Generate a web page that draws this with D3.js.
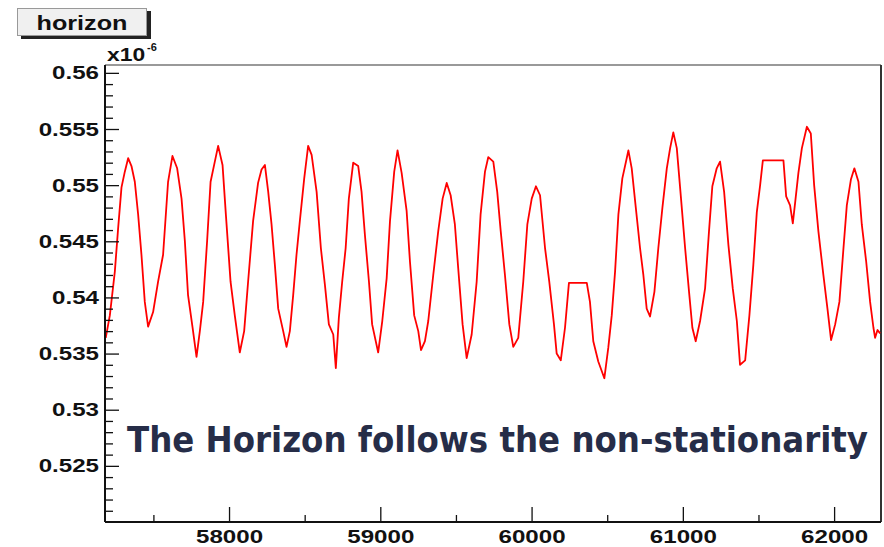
<!DOCTYPE html>
<html>
<head>
<meta charset="utf-8">
<script src="https://cdn.jsdelivr.net/npm/d3@7"></script>
<style>
  body { margin: 0; background: #fff; }
  svg { display: block; }
</style>
</head>
<body>
<div id="chart"></div>
<script>
// horizon trace, values (y in units of 1e-6)
const horizonX = [57185, 57212, 57245, 57267, 57289, 57311, 57333, 57355, 57377, 57399,
  57421, 57443, 57465, 57498, 57531, 57564, 57597, 57626, 57657, 57686,
  57708, 57729, 57759, 57785, 57807, 57829, 57855, 57878, 57906, 57928,
  57957, 57979, 58010, 58038, 58071, 58100, 58126, 58159, 58192, 58215,
  58237, 58259, 58281, 58303, 58325, 58358, 58380, 58402, 58424, 58446,
  58468, 58497, 58523, 58546, 58579, 58607, 58634, 58660, 58689, 58706,
  58726, 58748, 58771, 58792, 58821, 58854, 58876, 58898, 58925, 58946,
  58986, 59013, 59042, 59064, 59092, 59114, 59141, 59174, 59196, 59224,
  59251, 59269, 59295, 59317, 59350, 59383, 59412, 59439, 59465, 59493,
  59515, 59544, 59571, 59604, 59637, 59663, 59692, 59714, 59747, 59773,
  59796, 59824, 59853, 59879, 59912, 59945, 59972, 60001, 60029, 60056,
  60089, 60117, 60148, 60166, 60193, 60221, 60247, 60365, 60386, 60408,
  60441, 60481, 60507, 60530, 60552, 60574, 60600, 60629, 60640, 60662,
  60689, 60717, 60739, 60761, 60783, 60812, 60838, 60865, 60894, 60916,
  60937, 60960, 60988, 61015, 61041, 61063, 61085, 61114, 61147, 61173,
  61195, 61224, 61246, 61273, 61301, 61330, 61357, 61378, 61412, 61440,
  61466, 61489, 61511, 61529, 61665, 61683, 61709, 61727, 61742, 61764,
  61787, 61820, 61846, 61868, 61896, 61929, 61956, 61980, 62007, 62035,
  62062, 62084, 62111, 62134, 62161, 62183, 62212, 62238, 62260, 62271,
  62287, 62304];
const horizonY = [0.5364, 0.5384, 0.5423, 0.5462, 0.5498, 0.5512, 0.5524, 0.5517, 0.5503, 0.5474,
  0.5438, 0.5396, 0.5374, 0.5387, 0.5414, 0.5438, 0.5503, 0.5526, 0.5515, 0.5488,
  0.5450, 0.5402, 0.5373, 0.5347, 0.5370, 0.5396, 0.5450, 0.5503, 0.5521, 0.5535,
  0.5518, 0.5474, 0.5414, 0.5384, 0.5351, 0.5370, 0.5414, 0.5468, 0.5502, 0.5514,
  0.5518, 0.5494, 0.5465, 0.5429, 0.5390, 0.5370, 0.5356, 0.5370, 0.5402, 0.5438,
  0.5468, 0.5506, 0.5535, 0.5527, 0.5494, 0.5444, 0.5411, 0.5376, 0.5367, 0.5337,
  0.5382, 0.5414, 0.5444, 0.5488, 0.5520, 0.5517, 0.5494, 0.5456, 0.5414, 0.5376,
  0.5351, 0.5379, 0.5417, 0.5468, 0.5512, 0.5531, 0.5511, 0.5477, 0.5432, 0.5384,
  0.5370, 0.5353, 0.5361, 0.5379, 0.5420, 0.5459, 0.5488, 0.5502, 0.5491, 0.5465,
  0.5426, 0.5376, 0.5346, 0.5367, 0.5414, 0.5474, 0.5512, 0.5525, 0.5521, 0.5494,
  0.5459, 0.5420, 0.5376, 0.5356, 0.5364, 0.5414, 0.5465, 0.5488, 0.5499, 0.5491,
  0.5444, 0.5414, 0.5376, 0.5350, 0.5344, 0.5373, 0.5413, 0.5413, 0.5396, 0.5361,
  0.5343, 0.5328, 0.5355, 0.5384, 0.5423, 0.5474, 0.5506, 0.5524, 0.5531, 0.5515,
  0.5480, 0.5444, 0.5420, 0.5390, 0.5383, 0.5405, 0.5444, 0.5480, 0.5515, 0.5533,
  0.5547, 0.5533, 0.5488, 0.5444, 0.5405, 0.5373, 0.5361, 0.5379, 0.5408, 0.5459,
  0.5499, 0.5515, 0.5521, 0.5494, 0.5447, 0.5408, 0.5379, 0.5340, 0.5344, 0.5384,
  0.5429, 0.5476, 0.5500, 0.5522, 0.5522, 0.5490, 0.5482, 0.5466, 0.5484, 0.5511,
  0.5533, 0.5552, 0.5546, 0.5500, 0.5459, 0.5420, 0.5390, 0.5362, 0.5376, 0.5396,
  0.5444, 0.5482, 0.5505, 0.5515, 0.5503, 0.5465, 0.5432, 0.5396, 0.5373, 0.5364,
  0.5371, 0.5368];

const xTicks = [58000, 59000, 60000, 61000, 62000];
const xMinorTicks = [57500, 58500, 59500, 60500, 61500];
const yTicks = [0.525, 0.53, 0.535, 0.54, 0.545, 0.55, 0.555, 0.56];

const W = 884, H = 547;
const frame = { left: 105, right: 881, top: 65, bottom: 522 };
const labelFont = "'Liberation Sans', Arial, sans-serif";
const stretch = 1.27; // reference glyphs are wider than Arial

const svg = d3.select("#chart").append("svg")
  .attr("width", W).attr("height", H);

svg.append("rect").attr("width", W).attr("height", H).attr("fill", "#fff");

const x = d3.scaleLinear().domain([57180, 62310]).range([frame.left, frame.right]);
const y = d3.scaleLinear().domain([0.52, 0.5607]).range([frame.bottom, frame.top]);

// minor ticks every 0.001
const yMinor = d3.range(521, 561).map((v) => v / 1000).filter((v) => !yTicks.some((t) => Math.abs(t - v) < 1e-9));

// frame top / right
svg.append("line")
  .attr("x1", frame.left).attr("x2", frame.right)
  .attr("y1", frame.top).attr("y2", frame.top)
  .attr("stroke", "#999").attr("stroke-width", 2);
svg.append("line")
  .attr("x1", frame.right).attr("x2", frame.right)
  .attr("y1", frame.top).attr("y2", frame.bottom)
  .attr("stroke", "#333").attr("stroke-width", 2);

// the line
const line = d3.line()
  .x((d, i) => x(horizonX[i]))
  .y((d, i) => y(horizonY[i]));

svg.append("path")
  .datum(horizonY)
  .attr("d", line)
  .attr("fill", "none")
  .attr("stroke", "#ff0000")
  .attr("stroke-width", 1.8)
  .attr("stroke-linejoin", "round");

// y axis
const yAxisG = svg.append("g").attr("transform", `translate(${frame.left},0)`);
yAxisG.call(d3.axisLeft(y).tickValues(yMinor).tickSize(-8).tickFormat(""));
yAxisG.call((g) => g.select(".domain").remove());
const yMajorG = svg.append("g").attr("transform", `translate(${frame.left},0)`);
yMajorG.call(d3.axisLeft(y).tickValues(yTicks).tickSizeInner(-14).tickSizeOuter(0).tickPadding(6)
  .tickFormat((d) => String(+d.toFixed(3))));
yMajorG.select(".domain").remove();

// x axis
const xMinorG = svg.append("g").attr("transform", `translate(0,${frame.bottom})`);
xMinorG.call(d3.axisBottom(x).tickValues(xMinorTicks).tickSize(-7).tickFormat(""));
xMinorG.select(".domain").remove();
const xMajorG = svg.append("g").attr("transform", `translate(0,${frame.bottom})`);
xMajorG.call(d3.axisBottom(x).tickValues(xTicks).tickSizeInner(-15).tickSizeOuter(0).tickPadding(8)
  .tickFormat(d3.format("d")));
xMajorG.select(".domain").remove();

svg.selectAll(".tick line").attr("stroke", "#111").attr("stroke-width", 1.3);

const widen = function () {
  const w = this.getComputedTextLength();
  d3.select(this).attr("textLength", w * stretch).attr("lengthAdjust", "spacingAndGlyphs");
};

svg.selectAll(".tick text")
  .attr("font-family", labelFont)
  .attr("font-weight", "bold")
  .attr("font-size", 19)
  .attr("fill", "#111")
  .each(widen);

// frame left / bottom
svg.append("line")
  .attr("x1", frame.left).attr("x2", frame.left)
  .attr("y1", frame.top).attr("y2", frame.bottom)
  .attr("stroke", "#111").attr("stroke-width", 2);
svg.append("line")
  .attr("x1", frame.left).attr("x2", frame.right)
  .attr("y1", frame.bottom).attr("y2", frame.bottom)
  .attr("stroke", "#111").attr("stroke-width", 2);

// exponent label
svg.append("text")
  .attr("x", 107).attr("y", 61)
  .attr("font-family", labelFont).attr("font-weight", "bold")
  .attr("font-size", 18).attr("fill", "#111")
  .text("x10")
  .each(widen);
svg.append("text")
  .attr("x", 147).attr("y", 51)
  .attr("font-family", labelFont).attr("font-weight", "bold")
  .attr("font-size", 11).attr("fill", "#111")
  .text("-6");

// title box
svg.append("rect")
  .attr("x", 21).attr("y", 11).attr("width", 130).attr("height", 28)
  .attr("fill", "#222");
svg.append("rect")
  .attr("x", 17.5).attr("y", 8.5).attr("width", 129).attr("height", 27)
  .attr("fill", "#f0f0f0").attr("stroke", "#999").attr("stroke-width", 1);
svg.append("text")
  .attr("x", 82).attr("y", 30)
  .attr("text-anchor", "middle")
  .attr("font-family", labelFont).attr("font-weight", "bold")
  .attr("font-size", 21).attr("fill", "#111")
  .attr("textLength", 91).attr("lengthAdjust", "spacingAndGlyphs")
  .text("horizon");

// annotation
svg.append("g")
  .attr("transform", "translate(127,452) scale(1,1.18)")
  .append("text")
  .attr("x", 0).attr("y", 0)
  .attr("font-family", "'Comic Sans MS', 'DejaVu Sans', sans-serif")
  .attr("font-weight", "bold")
  .attr("font-size", 30)
  .attr("fill", "#262d48")
  .attr("textLength", 741)
  .attr("lengthAdjust", "spacingAndGlyphs")
  .text("The Horizon follows the non-stationarity");
</script>
</body>
</html>
